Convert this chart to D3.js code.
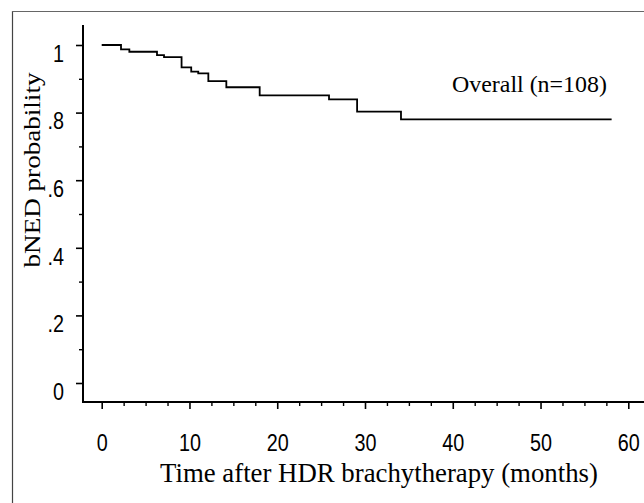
<!DOCTYPE html>
<html>
<head>
<meta charset="utf-8">
<script src="https://cdn.jsdelivr.net/npm/d3@7"></script>
<style>
  html, body { margin: 0; padding: 0; background: #fff; }
  svg { display: block; }
</style>
</head>
<body>
<svg id="chart" width="644" height="503"></svg>
<script>
// ---- data ----
const stepTimes = [0, 2.2, 3.15, 6.3, 7.1, 9.1, 10.2, 11.0, 12.15, 14.2, 18.0, 25.9, 29.1, 34.1];
const survival  = [1.0, 0.987, 0.980, 0.970, 0.964, 0.934, 0.921, 0.916, 0.893, 0.875, 0.851, 0.839, 0.803, 0.780];
const lastFollowUp = 58.1;
const xMajorTicks = [0, 10, 20, 30, 40, 50, 60];
const yMajorTicks = [0, 0.2, 0.4, 0.6, 0.8, 1];
const yTickLabels = ["0", ".2", ".4", ".6", ".8", "1"];
const groupLabel = "Overall (n=108)";
const xTitle = "Time after HDR brachytherapy (months)";
const yTitle = "bNED probability";

const svg = d3.select("#chart");
const W = 644, H = 503;

const x = d3.scaleLinear().domain([0, 60]).range([101.7, 628.3]);
const y = d3.scaleLinear().domain([0, 1]).range([383, 45]);

const yAxisX = 83, xAxisY = 402;
const sansFont = "'Liberation Sans', Arial, sans-serif";
const serifFont = "'Liberation Serif', 'Times New Roman', serif";

// frame (cropped figure border)
svg.append("line").attr("x1", 12.5).attr("x2", 12.5).attr("y1", 11).attr("y2", H)
  .attr("stroke", "#444").attr("stroke-width", 1.2);
svg.append("line").attr("x1", 12).attr("x2", W).attr("y1", 11.5).attr("y2", 11.5)
  .attr("stroke", "#666").attr("stroke-width", 1);

// axis lines
svg.append("line").attr("x1", yAxisX).attr("x2", yAxisX).attr("y1", 25).attr("y2", xAxisY + 1)
  .attr("stroke", "#000").attr("stroke-width", 2);
svg.append("line").attr("x1", yAxisX - 1).attr("x2", W).attr("y1", xAxisY).attr("y2", xAxisY)
  .attr("stroke", "#000").attr("stroke-width", 2);

const sx = 0.86;
// y axis
const yAxis = d3.axisLeft(y).tickValues(yMajorTicks).tickSize(7)
  .tickFormat((d, i) => yTickLabels[i]);
const gy = svg.append("g").attr("transform", `translate(${yAxisX},0)`).call(yAxis);
gy.select(".domain").remove();
gy.selectAll(".tick line").attr("stroke", "#000").attr("stroke-width", 1.6);
gy.selectAll(".tick text")
  .attr("font-family", sansFont).attr("font-size", 23).attr("fill", "#000")
  .attr("x", -19 / sx).attr("dy", "0.32em").attr("y", 9)
  .attr("transform", `scale(${sx},1)`);

const yMinor = d3.axisLeft(y).tickValues([0.1, 0.3, 0.5, 0.7, 0.9]).tickSize(4).tickFormat("");
const gym = svg.append("g").attr("transform", `translate(${yAxisX},0)`).call(yMinor);
gym.select(".domain").remove();
gym.selectAll(".tick line").attr("stroke", "#000").attr("stroke-width", 1.4);

// x axis
const xAxis = d3.axisBottom(x).tickValues(xMajorTicks).tickSize(7).tickFormat(d3.format("d"));
const gx = svg.append("g").attr("transform", `translate(0,${xAxisY})`).call(xAxis);
gx.select(".domain").remove();
gx.selectAll(".tick line").attr("stroke", "#000").attr("stroke-width", 1.6);
gx.selectAll(".tick text")
  .attr("font-family", sansFont).attr("font-size", 23).attr("fill", "#000")
  .attr("y", 33).attr("dy", "0.71em")
  .attr("transform", `scale(${sx},1)`).attr("x", 0);

const xMinorVals = d3.range(2.5, 60, 2.5).filter(v => v % 10 !== 0);
const xMinor = d3.axisBottom(x).tickValues(xMinorVals).tickSize(4).tickFormat("");
const gxm = svg.append("g").attr("transform", `translate(0,${xAxisY})`).call(xMinor);
gxm.select(".domain").remove();
gxm.selectAll(".tick line").attr("stroke", "#000").attr("stroke-width", 1.4);

// KM step curve
const pts = stepTimes.map((t, i) => [t, survival[i]]);
pts.push([lastFollowUp, survival[survival.length - 1]]);
const line = d3.line().x(d => x(d[0])).y(d => y(d[1])).curve(d3.curveStepAfter);
svg.append("path").datum(pts).attr("d", line)
  .attr("fill", "none").attr("stroke", "#000").attr("stroke-width", 1.8);

// helper to fit text width
function fit(sel, target) {
  const len = sel.node().getComputedTextLength();
  const fs = parseFloat(sel.attr("font-size"));
  sel.attr("font-size", fs * target / len);
}

// group label
const gl = svg.append("text").attr("x", 452).attr("y", 92)
  .attr("font-family", serifFont).attr("font-size", 22).attr("fill", "#000").text(groupLabel);
fit(gl, 155);

// x title
const xt = svg.append("text").attr("x", 379).attr("y", 482).attr("text-anchor", "middle")
  .attr("font-family", serifFont).attr("font-size", 22).attr("fill", "#000").text(xTitle);
fit(xt, 438);

// y title: stretched along its length to ~195px
const yt = svg.append("text").attr("text-anchor", "middle")
  .attr("font-family", serifFont).attr("font-size", 23).attr("fill", "#000").text(yTitle);
const ytLen = yt.node().getComputedTextLength();
yt.attr("transform", `translate(40,170) rotate(-90) scale(${195 / ytLen},1)`);
</script>
</body>
</html>
